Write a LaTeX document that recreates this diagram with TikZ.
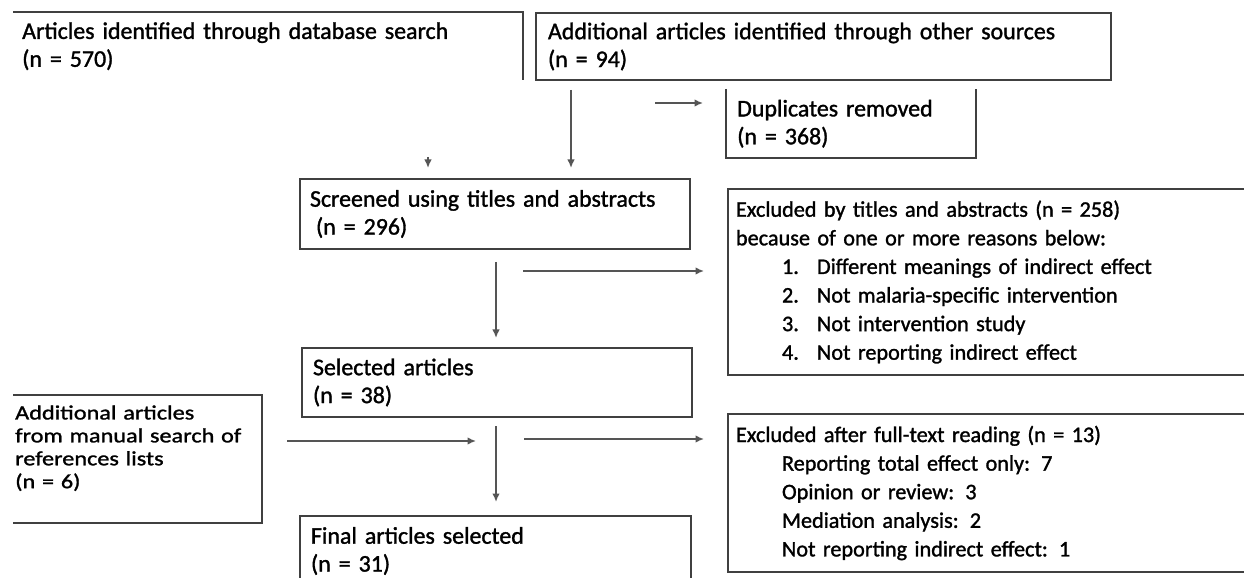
\documentclass[tikz,border=0pt]{standalone}
\usepackage{fontspec}
\setmainfont{Carlito}[FakeBold=1.3]
\newfontfamily\widefont{Carlito}[FakeBold=1.3,FakeStretch=1.2]
\usetikzlibrary{arrows.meta}
\usetikzlibrary{positioning}
\definecolor{boxgray}{HTML}{404040}
\definecolor{arrowgray}{HTML}{555555}
\newcommand{\reasonnum}[1]{\hspace*{46bp}\makebox[35bp][l]{#1.}}

\begin{document}
\begin{tikzpicture}[x=1bp,y=-1bp,
  every node/.style={rectangle,anchor=north west,inner xsep=10bp,inner ysep=0bp,align=left,font=\fontsize{24}{28}\selectfont},
  box/.style={draw=boxgray,line width=2bp},
  side/.style={draw=boxgray,line width=2bp},
  small/.style={font=\fontsize{22.3}{28.7}\selectfont},
  flow/.style={draw=arrowgray,line width=1.6bp,-{Latex[length=8.5bp,width=7.5bp]}}]
  \useasboundingbox[fill=white] (0,0) rectangle (1244,578);

  \node[text width=492bp,inner xsep=9bp,minimum height=68bp] (dbsearch) at (13,12) {Articles identified through database search\\(n = 570)};
  \node[box,text width=551bp,inner xsep=12bp,minimum height=67bp] (othersrc) at (535,12) {Additional articles identified through other sources\\(n = 94)};
  \node[text width=228bp,inner xsep=11bp,minimum height=69bp] (dupl) at (726,89) {Duplicates removed\\(n = 368)};
  \node[box,text width=370bp,minimum height=70bp] (screened) at (299,178) {Screened using titles and abstracts\\\hspace*{6bp}(n = 296)};
  \node[box,small,text width=524bp,inner xsep=8bp,minimum height=186bp] (exclabs) at (727,188) {Excluded by titles and abstracts (n = 258)\\because of one or more reasons below:\\\reasonnum{1}Different meanings of indirect effect\\\reasonnum{2}Not malaria-specific intervention\\\reasonnum{3}Not intervention study\\\reasonnum{4}Not reporting indirect effect};
  \node[box,text width=368bp,inner xsep=11bp,minimum height=69bp] (selected) at (301,347) {Selected articles\\(n = 38)};
  \node[font=\widefont\fontsize{20.3}{23}\selectfont,text width=245bp,inner xsep=2bp,minimum height=106bp] (manual) at (13,395) {Additional articles\\from manual search of\\references lists\\(n = 6)};
  \node[box,small,text width=524bp,inner xsep=8bp,minimum height=158bp] (exclfull) at (727,413) {Excluded after full-text reading (n = 13)\\\hspace*{46bp}Reporting total effect only: 7\\\hspace*{46bp}Opinion or review: 3\\\hspace*{46bp}Mediation analysis: 2\\\hspace*{46bp}Not reporting indirect effect: 1};
  \node[box,text width=369bp,inner xsep=11bp,minimum height=70bp] (final) at (299,515) {Final articles selected\\(n = 31)};

  % open sides
  \draw[side] (dbsearch.north west) -- (dbsearch.north east) -- (dbsearch.south east);
  \draw[side] (dupl.north west) -- (dupl.south west) -- (dupl.south east) -- (dupl.north east);
  \draw[side] (manual.north west) -- (manual.north east) -- ([yshift=-22bp]manual.south east) -- ([yshift=-22bp]manual.south west);

  % arrows
  \coordinate (srctail) at (571,90);
  \coordinate (dbtail) at (428,157);
  \coordinate (duptail) at (655,103);
  \coordinate (scrtail) at (496,262);
  \coordinate (abstail) at (523,271);
  \coordinate (seltail) at (496,426);
  \coordinate (fulltail) at (524,439);
  \coordinate (manhead) at (476,441);
  \draw[flow,shorten >=10bp] (srctail) -- (srctail |- screened.north);
  \draw[flow,shorten >=10bp] (dbtail) -- (dbtail |- screened.north);
  \draw[flow,shorten >=23bp] (duptail) -- (duptail -| dupl.west);
  \draw[flow,shorten >=9bp] (scrtail) -- (scrtail |- selected.north);
  \draw[flow,shorten >=23bp] (abstail) -- (abstail -| exclabs.west);
  \draw[flow,shorten >=13bp] (seltail) -- (seltail |- final.north);
  \draw[flow,shorten >=23bp] (fulltail) -- (fulltail -| exclfull.west);
  \draw[flow,shorten <=25bp] (manual.east |- manhead) -- (manhead);
\end{tikzpicture}
\end{document}
